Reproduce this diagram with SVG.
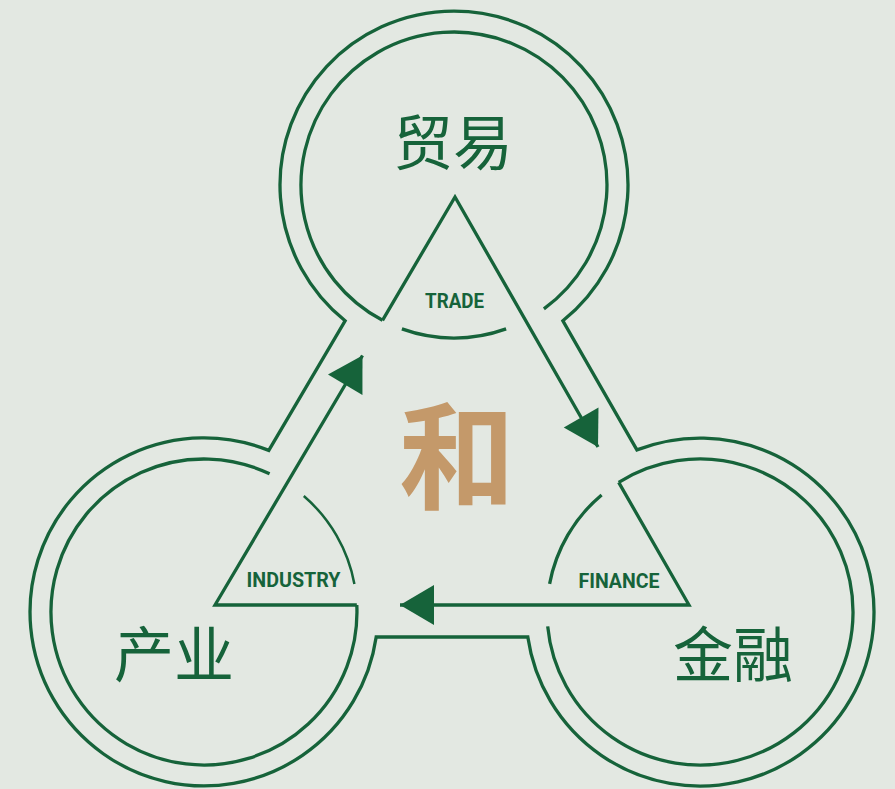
<svg xmlns="http://www.w3.org/2000/svg" width="895" height="789" viewBox="0 0 895 789">
  <style>
    .ln { fill: none; stroke: #16633a; stroke-width: 3.3; stroke-linejoin: miter; }
    .thin { fill: none; stroke: #16633a; stroke-width: 2.5; }
    .cn { font-family: "Noto Sans CJK SC", "Noto Sans", sans-serif; font-size: 60px; fill: #16633a; text-anchor: middle; font-weight: 400; }
    .en { font-family: Roboto, "Liberation Sans", sans-serif; font-size: 20px; fill: #16633a; text-anchor: middle; font-weight: 700; }
    .he { font-family: "Noto Sans CJK SC", "Noto Sans CJK JP", sans-serif; font-size: 116px; fill: #c4996a; text-anchor: middle; font-weight: 700; }
  </style>
  <defs>
    <marker id="arrow" markerUnits="userSpaceOnUse" markerWidth="36" markerHeight="42" viewBox="-35 -21 36 42" refX="0" refY="0" orient="auto" overflow="visible">
      <path d="M0,0 L-34,-20 L-34,20 Z" fill="#16633a"/>
    </marker>
  </defs>
  <rect width="895" height="789" fill="#e3e8e2"/>

  <g id="outline">
    <path class="ln" d="M345.1,320.8 A174,174 0 1 1 562.9,320.8 L636.9,449.9 A174,174 0 1 1 527.8,637 L376.2,637 A174,174 0 1 1 268.8,450.4 Z"/>
  </g>

  <g id="node-trade">
    <path class="ln" d="M382.5,320.3 A153,153 0 1 1 543.9,308.8"/>
    <path class="ln" d="M401.9,328.9 A153,153 0 0 0 506.1,328.9"/>
    <text class="cn" x="453" y="165">贸易</text>
    <text class="en" x="454.5" y="307.5" textLength="59" lengthAdjust="spacingAndGlyphs">TRADE</text>
  </g>

  <g id="node-finance">
    <path class="ln" d="M618.7,482.4 A153,153 0 1 1 547.7,626.4"/>
    <path class="ln" d="M549.6,583.9 A153,153 0 0 1 601.6,494.9"/>
    <text class="cn" x="733" y="677">金融</text>
    <text class="en" x="619" y="587.5" textLength="81" lengthAdjust="spacingAndGlyphs">FINANCE</text>
  </g>

  <g id="node-industry">
    <path class="ln" d="M356.8,605 A153,153 0 1 1 269.6,473.8"/>
    <path class="thin" d="M303.8,496 A153,153 0 0 1 354.4,583.9"/>
    <text class="cn" x="174" y="677">产业</text>
    <text class="en" x="293.5" y="587" textLength="94" lengthAdjust="spacingAndGlyphs">INDUSTRY</text>
  </g>

  <g id="center">
    <text class="he" x="457" y="500">和</text>
  </g>

  <g id="connectors">
    <path class="ln" d="M382.5,320.3 L455,197 L598,447" marker-end="url(#arrow)"/>
    <path class="ln" d="M618.7,482.4 L689,605 L400,605" marker-end="url(#arrow)"/>
    <path class="ln" d="M356.8,605 L215,605 L362.5,355.5" marker-end="url(#arrow)"/>
  </g>
</svg>
